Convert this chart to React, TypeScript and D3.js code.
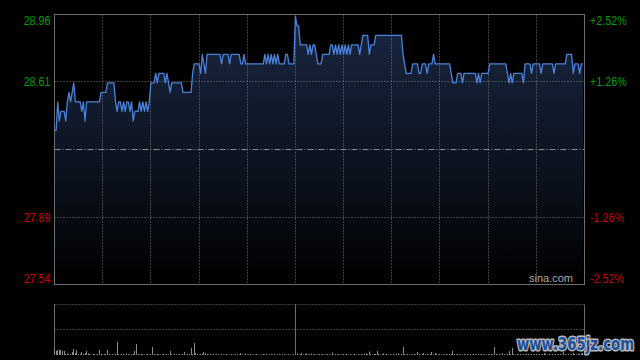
import React from "react";
import * as d3 from "d3";

const WIDTH = 640;
const HEIGHT = 360;

// Intraday prices, one per minute (HK session: 150 min morning + 180 min afternoon)
const PRICES: number[] = [
  28.35, 28.35, 28.50, 28.40, 28.45, 28.45, 28.45, 28.40, 28.50, 28.55,
  28.50, 28.55, 28.60, 28.50, 28.50, 28.50, 28.50, 28.45, 28.50, 28.40,
  28.50, 28.50, 28.50, 28.50, 28.50, 28.50, 28.50, 28.50, 28.50, 28.55,
  28.55, 28.55, 28.55, 28.60, 28.60, 28.60, 28.60, 28.60, 28.50, 28.45,
  28.50, 28.50, 28.45, 28.50, 28.45, 28.50, 28.50, 28.45, 28.50, 28.40,
  28.45, 28.45, 28.45, 28.50, 28.45, 28.50, 28.45, 28.50, 28.45, 28.50,
  28.60, 28.60, 28.60, 28.65, 28.60, 28.65, 28.65, 28.65, 28.65, 28.60,
  28.65, 28.60, 28.55, 28.60, 28.60, 28.60, 28.60, 28.60, 28.60, 28.60,
  28.55, 28.55, 28.55, 28.55, 28.55, 28.55, 28.65, 28.70, 28.70, 28.70,
  28.70, 28.65, 28.75, 28.70, 28.65, 28.75, 28.75, 28.75, 28.75, 28.75,
  28.75, 28.75, 28.75, 28.75, 28.70, 28.75, 28.75, 28.75, 28.75, 28.70,
  28.75, 28.75, 28.75, 28.75, 28.75, 28.75, 28.70, 28.70, 28.75, 28.70,
  28.70, 28.70, 28.70, 28.70, 28.70, 28.70, 28.70, 28.70, 28.70, 28.70,
  28.70, 28.75, 28.70, 28.75, 28.70, 28.75, 28.70, 28.75, 28.70, 28.75,
  28.70, 28.70, 28.70, 28.70, 28.75, 28.75, 28.70, 28.70, 28.70, 28.70,
  28.95, 28.90, 28.90, 28.80, 28.80, 28.80, 28.80, 28.80, 28.75, 28.80,
  28.75, 28.80, 28.80, 28.75, 28.70, 28.70, 28.70, 28.75, 28.75, 28.75,
  28.75, 28.75, 28.80, 28.80, 28.75, 28.80, 28.75, 28.80, 28.75, 28.80,
  28.75, 28.80, 28.75, 28.80, 28.75, 28.80, 28.80, 28.80, 28.80, 28.80,
  28.75, 28.80, 28.85, 28.85, 28.85, 28.85, 28.75, 28.80, 28.80, 28.80,
  28.85, 28.85, 28.85, 28.85, 28.85, 28.85, 28.85, 28.85, 28.85, 28.85,
  28.85, 28.85, 28.85, 28.85, 28.85, 28.85, 28.85, 28.75, 28.70, 28.65,
  28.65, 28.65, 28.65, 28.70, 28.70, 28.70, 28.70, 28.65, 28.65, 28.70,
  28.70, 28.70, 28.65, 28.70, 28.70, 28.70, 28.75, 28.70, 28.70, 28.70,
  28.70, 28.70, 28.70, 28.70, 28.70, 28.70, 28.70, 28.65, 28.60, 28.60,
  28.60, 28.65, 28.65, 28.65, 28.60, 28.65, 28.65, 28.65, 28.65, 28.65,
  28.65, 28.65, 28.65, 28.60, 28.65, 28.60, 28.65, 28.65, 28.65, 28.65,
  28.65, 28.70, 28.70, 28.70, 28.70, 28.70, 28.70, 28.70, 28.70, 28.70,
  28.70, 28.70, 28.65, 28.60, 28.65, 28.60, 28.65, 28.65, 28.65, 28.65,
  28.65, 28.65, 28.60, 28.70, 28.70, 28.70, 28.70, 28.65, 28.70, 28.70,
  28.70, 28.70, 28.70, 28.65, 28.70, 28.70, 28.70, 28.70, 28.70, 28.70,
  28.70, 28.65, 28.70, 28.70, 28.70, 28.70, 28.70, 28.70, 28.70, 28.75,
  28.75, 28.75, 28.75, 28.65, 28.70, 28.70, 28.70, 28.65, 28.70, 28.70,
];

// Volume per minute (hundreds of shares)
const VOLUMES: number[] = [
  70, 40, 50, 50, 50, 40, 40, 10, 15, 10,
  10, 30, 60, 20, 50, 10, 10, 30, 10, 20,
  40, 15, 10, 5, 10, 10, 5, 10, 50, 10,
  5, 10, 10, 50, 10, 5, 10, 5, 10, 130,
  10, 5, 10, 10, 5, 15, 10, 5, 10, 10,
  40, 110, 10, 5, 10, 10, 5, 10, 10, 5,
  10, 80, 10, 5, 10, 10, 5, 10, 10, 5,
  10, 5, 40, 10, 5, 10, 10, 5, 10, 5,
  10, 30, 5, 10, 10, 70, 10, 120, 20, 10,
  5, 10, 10, 30, 20, 10, 5, 10, 5, 10,
  5, 10, 5, 5, 10, 5, 5, 10, 5, 5,
  10, 5, 5, 10, 5, 5, 20, 5, 5, 10,
  5, 5, 10, 5, 5, 5, 10, 5, 5, 5,
  10, 5, 10, 5, 5, 10, 5, 10, 5, 5,
  10, 5, 5, 10, 5, 5, 10, 5, 5, 5,
  10, 15, 5, 10, 20, 5, 10, 15, 5, 10,
  15, 5, 10, 5, 5, 10, 5, 10, 5, 5,
  10, 5, 5, 25, 5, 10, 5, 10, 5, 5,
  10, 5, 10, 5, 10, 5, 5, 10, 5, 10,
  5, 10, 5, 10, 15, 10, 35, 10, 5, 10,
  10, 40, 10, 5, 10, 15, 5, 10, 5, 10,
  5, 10, 5, 10, 15, 5, 10, 80, 10, 5,
  10, 5, 10, 5, 10, 5, 30, 10, 5, 10,
  20, 5, 10, 5, 10, 30, 5, 20, 10, 5,
  10, 5, 10, 5, 10, 5, 10, 10, 40, 10,
  5, 10, 5, 10, 5, 10, 5, 10, 5, 10,
  5, 10, 10, 5, 10, 5, 10, 5, 10, 5,
  10, 5, 10, 5, 80, 10, 5, 10, 5, 20,
  10, 5, 10, 40, 10, 70, 10, 5, 10, 5,
  10, 5, 10, 5, 15, 10, 5, 10, 5, 10,
  10, 5, 10, 5, 10, 20, 10, 5, 10, 5,
  10, 5, 10, 5, 10, 10, 5, 30, 10, 5,
  10, 5, 10, 20, 10, 5, 10, 10, 15, 20,
];

const PREV_CLOSE = 28.25;
const PRICE_LEVELS: number[] = [28.96, 28.61, 27.89, 27.54];
const LEFT_LABELS: string[] = ["28.96", "28.61", "27.89", "27.54"];
const RIGHT_LABELS: string[] = ["+2.52%", "+1.26%", "-1.26%", "-2.52%"];
const TOTAL_MINUTES = 330;
const GRID_STEP_MIN = 30;
const LUNCH_MIN = 150;
const VOL_MAX = 500;

export default function App() {
  const left = 54.5;
  const right = 584.5;
  const top = 14.5;
  const bottom = 284.5;
  const vTop = 304.5;
  const vBottom = 355;

  const x = d3.scaleLinear().domain([0, TOTAL_MINUTES]).range([left, right]);
  const y = d3
    .scaleLinear()
    .domain([PRICE_LEVELS[PRICE_LEVELS.length - 1], PRICE_LEVELS[0]])
    .range([bottom, top]);
  const yv = d3.scaleLinear().domain([0, VOL_MAX]).range([vBottom, vTop]);

  const line = d3
    .line<number>()
    .x((_, i) => x(i))
    .y((d) => y(d));
  const area = d3
    .area<number>()
    .x((_, i) => x(i))
    .y0(bottom)
    .y1((d) => y(d));

  const gridTicks = d3.range(GRID_STEP_MIN, TOTAL_MINUTES, GRID_STEP_MIN);
  const snap = (v: number) => Math.round(v - 0.5) + 0.5;

  const font = "'Liberation Sans', Arial, sans-serif";
  const labelDy = (i: number) => (i === 0 ? 6 : i === PRICE_LEVELS.length - 1 ? -6 : 0);
  const labelColor = (v: number) => (v >= PREV_CLOSE ? "#009e00" : "#d00000");
  const wmScale = 0.74;

  return (
    <div style={{ position: "absolute", left: 0, top: 0 }}>
      <svg width={WIDTH} height={HEIGHT} style={{ display: "block" }}>
        <defs>
          <linearGradient id="fillGrad" gradientUnits="userSpaceOnUse" x1={0} y1={top} x2={0} y2={bottom}>
            <stop offset="0%" stopColor="#1a2742" />
            <stop offset="55%" stopColor="#0c1320" />
            <stop offset="100%" stopColor="#000000" />
          </linearGradient>
        </defs>
        <rect x={0} y={0} width={WIDTH} height={HEIGHT} fill="#000" />

        <path d={area(PRICES) || ""} fill="url(#fillGrad)" />

        {gridTicks.map((t) => (
          <line
            key={"vg" + t}
            x1={snap(x(t))}
            x2={snap(x(t))}
            y1={top}
            y2={bottom}
            stroke="#7a7a7a"
            strokeWidth={1}
            strokeDasharray="1,2"
          />
        ))}
        {PRICE_LEVELS.slice(1, PRICE_LEVELS.length - 1).map((v) => (
          <line
            key={"hg" + v}
            x1={left}
            x2={right}
            y1={snap(y(v))}
            y2={snap(y(v))}
            stroke="#7a7a7a"
            strokeWidth={1}
            strokeDasharray="1,2"
          />
        ))}
        <line
          x1={left}
          x2={right}
          y1={snap(y(PREV_CLOSE))}
          y2={snap(y(PREV_CLOSE))}
          stroke="#8a8a8a"
          strokeWidth={1}
          strokeDasharray="6,2,1,2"
        />

        <path d={line(PRICES) || ""} fill="none" stroke="#4a82dc" strokeWidth={1.3} strokeLinejoin="round" />

        <rect x={left} y={top} width={right - left} height={bottom - top} fill="none" stroke="#6e6e6e" strokeWidth={1} />

        {PRICE_LEVELS.map((v, i) => (
          <text
            key={"ll" + i}
            transform={`translate(50.5,${y(v) + labelDy(i)}) scale(0.86,1)`}
            dy="0.36em"
            textAnchor="end"
            fontFamily={font}
            fontSize={12.5}
            fill={labelColor(v)}
          >
            {LEFT_LABELS[i]}
          </text>
        ))}
        {PRICE_LEVELS.map((v, i) => (
          <text
            key={"rl" + i}
            transform={`translate(590,${y(v) + labelDy(i)}) scale(0.86,1)`}
            dy="0.36em"
            textAnchor="start"
            fontFamily={font}
            fontSize={12.5}
            fill={labelColor(v)}
          >
            {RIGHT_LABELS[i]}
          </text>
        ))}
        <text x={573} y={282} textAnchor="end" fontFamily={font} fontSize={11} fill="#a8a8a8">
          sina.com
        </text>

        <line x1={left} x2={right} y1={vTop} y2={vTop} stroke="#7a7a7a" strokeDasharray="1,2" />
        <line
          x1={left}
          x2={right}
          y1={snap((vTop + vBottom) / 2)}
          y2={snap((vTop + vBottom) / 2)}
          stroke="#7a7a7a"
          strokeDasharray="1,2"
        />
        <line x1={left} x2={left} y1={vTop} y2={vBottom} stroke="#6e6e6e" />
        <line x1={right} x2={right} y1={vTop} y2={vBottom} stroke="#6e6e6e" />
        <line x1={snap(x(LUNCH_MIN))} x2={snap(x(LUNCH_MIN))} y1={vTop} y2={vBottom} stroke="#6e6e6e" />
        {VOLUMES.map((v, i) => (
          <line
            key={"vb" + i}
            x1={snap(x(i))}
            x2={snap(x(i))}
            y1={vBottom}
            y2={yv(v)}
            stroke="#8c8c8c"
            strokeWidth={1}
          />
        ))}

        <text
          transform={`translate(517,350) scale(${wmScale},1)`}
          textLength={117 / wmScale}
          lengthAdjust="spacingAndGlyphs"
          fontFamily="'DejaVu Sans', sans-serif"
          fontWeight="bold"
          fontSize={17}
          fill="#1d4f9c"
          stroke="#b8b8b8"
          strokeWidth={3}
          paintOrder="stroke"
          strokeLinejoin="round"
        >
          www.365jz.com
        </text>
      </svg>
    </div>
  );
}
